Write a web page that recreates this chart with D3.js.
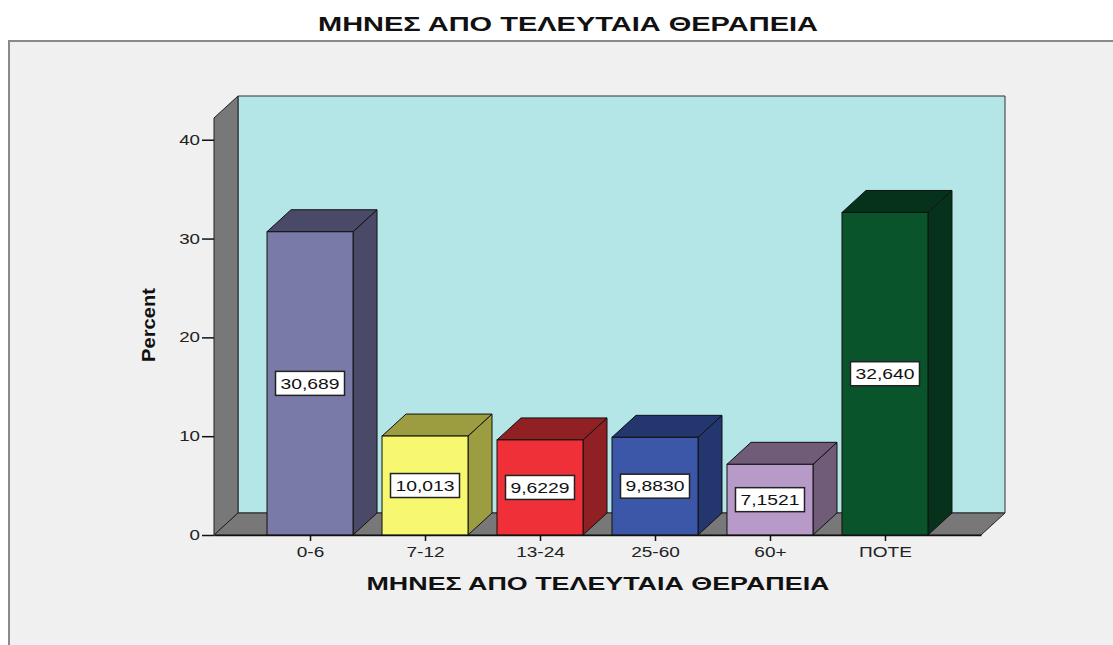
<!DOCTYPE html>
<html>
<head>
<meta charset="utf-8">
<script src="https://cdn.jsdelivr.net/npm/d3@7"></script>
<style>
  body { margin: 0; background: #ffffff; }
  svg { display: block; font-family: "Liberation Sans", Arial, sans-serif; }
</style>
</head>
<body>
<svg id="chart" width="1113" height="645"></svg>
<script>
// data
const categories = ["0-6", "7-12", "13-24", "25-60", "60+", "ΠΟΤΕ"];
const percents = [30.689, 10.013, 9.6229, 9.8830, 7.1521, 32.640];
const valueLabels = ["30,689", "10,013", "9,6229", "9,8830", "7,1521", "32,640"];
const frontColors = ["#7a7aa8", "#f8f870", "#f03038", "#3c56a8", "#b89ac8", "#0a542c"];
const sideColors = ["#4a4a68", "#9c9c40", "#902024", "#24366e", "#705c78", "#06321c"];
const yTicks = [0, 10, 20, 30, 40];
const chartTitle = "ΜΗΝΕΣ ΑΠΟ ΤΕΛΕΥΤΑΙΑ ΘΕΡΑΠΕΙΑ";
const xTitle = "ΜΗΝΕΣ ΑΠΟ ΤΕΛΕΥΤΑΙΑ ΘΕΡΑΠΕΙΑ";
const yTitle = "Percent";

const svg = d3.select("#chart");

// the original picture is a bit wider than tall, stretch small text to match
const stretch = (sel, k) => sel.each(function() {
    const w = this.getComputedTextLength();
    d3.select(this).attr("textLength", w * k).attr("lengthAdjust", "spacingAndGlyphs");
});

// outer frame
svg.append("rect")
    .attr("x", 9).attr("y", 41)
    .attr("width", 1120).attr("height", 620)
    .attr("fill", "#f0f0f0")
    .attr("stroke", "#8a8a8a")
    .attr("stroke-width", 2);

svg.append("text")
    .attr("x", 568).attr("y", 31)
    .attr("text-anchor", "middle")
    .attr("font-family", "'Liberation Sans Narrow', 'Arial Narrow', 'Liberation Sans', sans-serif")
    .attr("font-weight", "bold")
    .attr("font-size", 21)
    .attr("textLength", 500)
    .attr("lengthAdjust", "spacingAndGlyphs")
    .attr("fill", "#111")
    .text(chartTitle);

// plot geometry
const x0 = 214, x1 = 981, yBase = 535;
const dx = 24, dy = -22;

const x = d3.scalePoint().domain(categories).range([x0, x1]).padding(0.835);
const y = d3.scaleLinear().domain([0, 42.2]).range([yBase, 118]);
const barW = 86;

const pts = p => p.map(d => d.join(",")).join(" ");
const yTop = y.range()[1];

// back wall
svg.append("polygon")
    .attr("points", pts([[x0 + dx, yTop + dy], [x1 + dx, yTop + dy], [x1 + dx, yBase + dy], [x0 + dx, yBase + dy]]))
    .attr("fill", "#b4e6e8").attr("stroke", "#333").attr("stroke-width", 1);

// left wall
svg.append("polygon")
    .attr("points", pts([[x0, yTop], [x0 + dx, yTop + dy], [x0 + dx, yBase + dy], [x0, yBase]]))
    .attr("fill", "#787878").attr("stroke", "#222").attr("stroke-width", 1);

// floor
svg.append("polygon")
    .attr("points", pts([[x0, yBase], [x0 + dx, yBase + dy], [x1 + dx, yBase + dy], [x1, yBase]]))
    .attr("fill", "#787878").attr("stroke", "#222").attr("stroke-width", 1);

const data = categories.map((c, i) => ({ cat: c, v: percents[i], label: valueLabels[i], front: frontColors[i], side: sideColors[i] }));

const bars = svg.selectAll(".bar")
    .data(data)
    .enter().append("g")
    .attr("class", "bar");

// side face
bars.append("polygon")
    .attr("points", d => {
        const r = x(d.cat) + barW / 2, t = y(d.v);
        return pts([[r, t], [r + dx, t + dy], [r + dx, yBase + dy], [r, yBase]]);
    })
    .attr("fill", d => d.side).attr("stroke", "#111").attr("stroke-width", 1);

// top face
bars.append("polygon")
    .attr("points", d => {
        const l = x(d.cat) - barW / 2, r = x(d.cat) + barW / 2, t = y(d.v);
        return pts([[l, t], [l + dx, t + dy], [r + dx, t + dy], [r, t]]);
    })
    .attr("fill", d => d.side).attr("stroke", "#111").attr("stroke-width", 1);

// front face
bars.append("rect")
    .attr("x", d => x(d.cat) - barW / 2)
    .attr("y", d => y(d.v))
    .attr("width", barW)
    .attr("height", d => yBase - y(d.v))
    .attr("fill", d => d.front).attr("stroke", "#111").attr("stroke-width", 1);

// value labels
const lab = bars.append("g")
    .attr("transform", d => `translate(${x(d.cat)},${y(d.v / 2)})`);
lab.append("rect")
    .attr("x", -34.5).attr("y", -12)
    .attr("width", 69).attr("height", 24)
    .attr("fill", "#fff").attr("stroke", "#222").attr("stroke-width", 1.5);
lab.append("text")
    .attr("text-anchor", "middle")
    .attr("dy", "0.36em")
    .attr("font-size", 14.5)
    .attr("fill", "#111")
    .text(d => d.label)
    .call(stretch, 1.33);

// axes
const yAxis = svg.append("g")
    .attr("transform", `translate(${x0},0)`)
    .call(d3.axisLeft(y).tickValues(yTicks).tickSize(12).tickPadding(2).tickSizeOuter(0));
yAxis.select(".domain").remove();
yAxis.selectAll("line").attr("stroke", "#111").attr("stroke-width", 1.5);
yAxis.selectAll("text").attr("font-size", 14).attr("fill", "#222")
    .attr("font-family", "'Liberation Sans', Arial, sans-serif")
    .call(stretch, 1.34);

const xAxis = svg.append("g")
    .attr("transform", `translate(0,${yBase})`)
    .call(d3.axisBottom(x).tickSize(6).tickPadding(6).tickSizeOuter(0));
xAxis.select(".domain").attr("stroke", "#111").attr("stroke-width", 1.5);
xAxis.selectAll("line").attr("stroke", "#111").attr("stroke-width", 1.5);
xAxis.selectAll("text").attr("font-size", 14).attr("fill", "#222")
    .attr("font-family", "'Liberation Sans', Arial, sans-serif")
    .call(stretch, 1.36);

svg.append("text")
    .attr("x", 598).attr("y", 590)
    .attr("text-anchor", "middle")
    .attr("font-weight", "bold")
    .attr("font-size", 19)
    .attr("textLength", 463)
    .attr("lengthAdjust", "spacingAndGlyphs")
    .attr("fill", "#111")
    .text(xTitle);

svg.append("text")
    .attr("transform", "translate(155,325) rotate(-90)")
    .attr("text-anchor", "middle")
    .attr("font-family", "'Liberation Sans Narrow', 'Arial Narrow', 'Liberation Sans', sans-serif")
    .attr("font-weight", "bold")
    .attr("font-size", 19)
    .attr("textLength", 74)
    .attr("lengthAdjust", "spacingAndGlyphs")
    .attr("fill", "#111")
    .text(yTitle);
</script>
</body>
</html>
